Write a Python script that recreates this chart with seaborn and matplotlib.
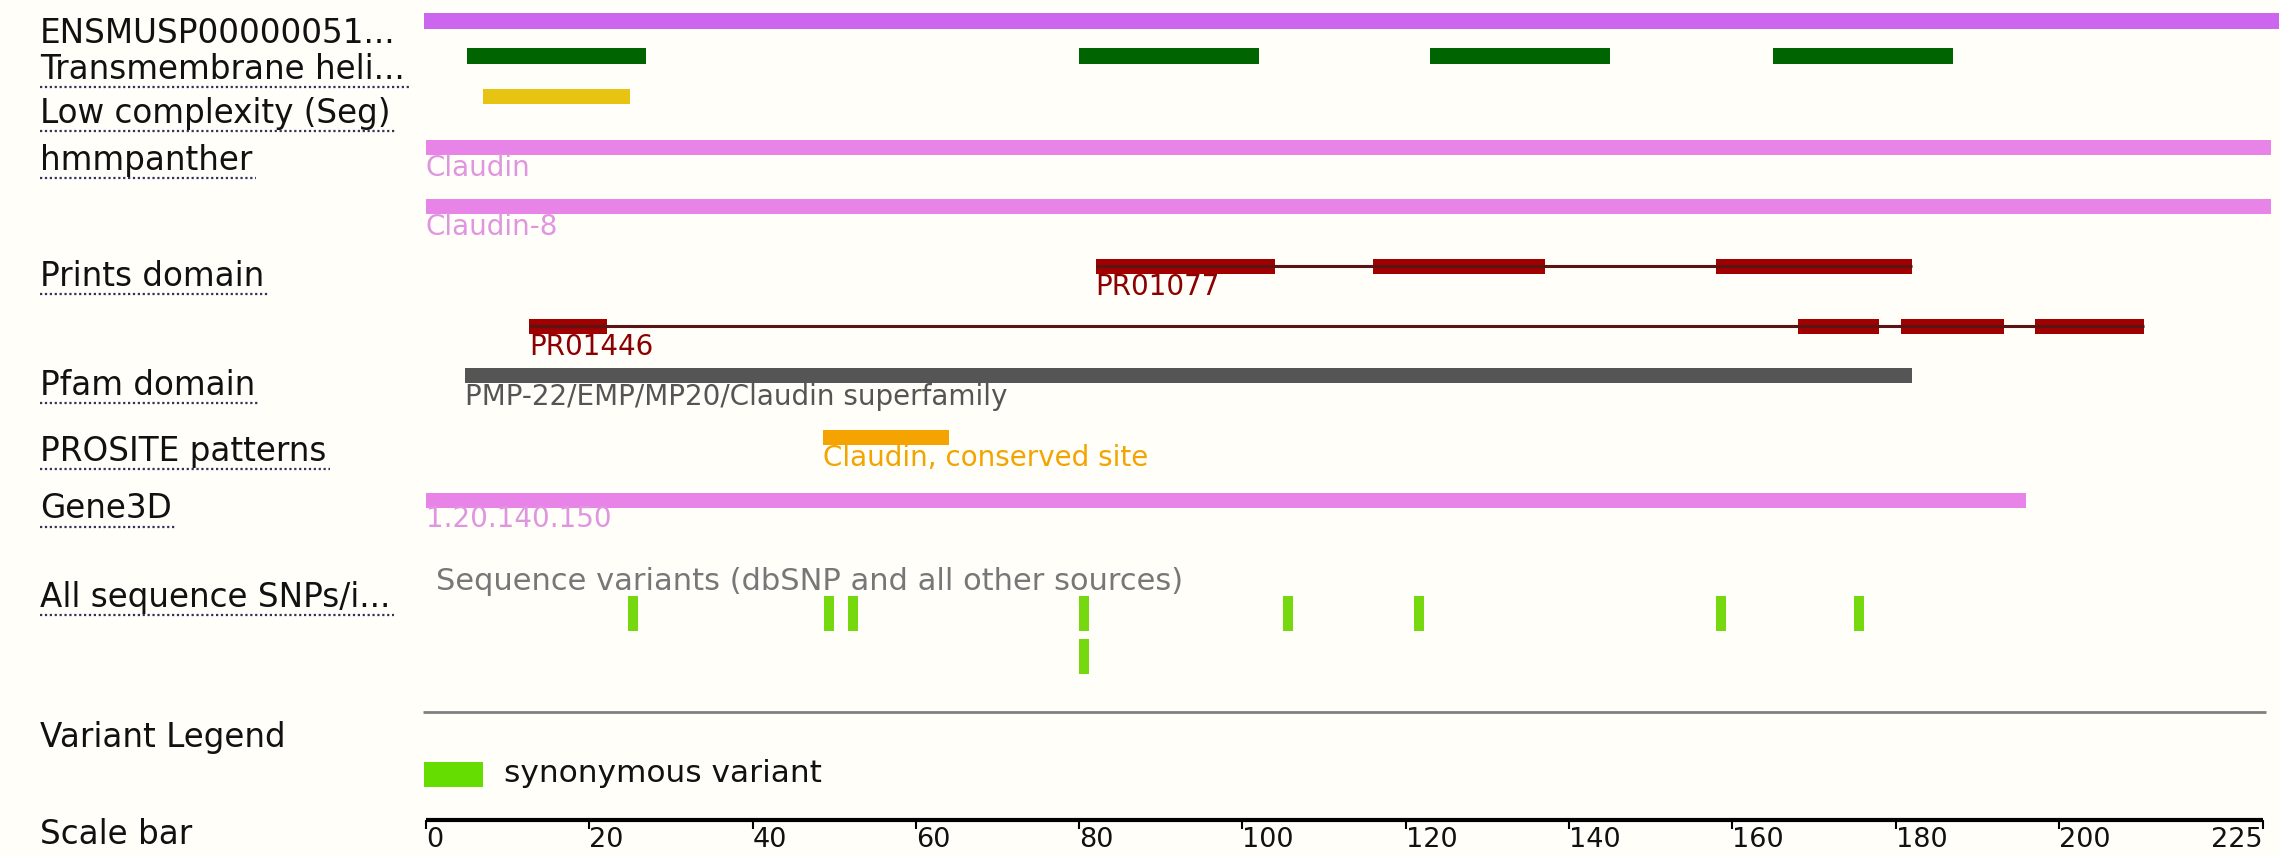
import numpy as np
import pandas as pd
import seaborn as sns
import matplotlib
import matplotlib.pyplot as plt
from matplotlib.patches import Rectangle
from matplotlib.path import Path

matplotlib.use('Agg')

# --- data (protein coordinates, aa) ---
seq_len = 225
tm_helices = [(5, 27), (80, 102), (123, 145), (165, 187)]
low_complexity = [(7, 25)]
panther_claudin = [(0, 226)]
panther_claudin8 = [(0, 226)]
pr01077_blocks = [(82, 104), (116, 137), (158, 182)]
pr01446_blocks = [(12.6, 22.2), (168, 178), (180.6, 193.3), (197, 210.4)]
pfam_claudin = [(4.8, 182)]
prosite_site = [(48.6, 64)]
gene3d = [(0, 196)]
snp_row1 = [25.4, 49.4, 52.3, 80.6, 105.6, 121.6, 158.6, 175.5]
snp_row2 = [80.6]
scale_ticks = [0, 20, 40, 60, 80, 100, 120, 140, 160, 180, 200, 225]

track_labels = ['ENSMUSP00000051...', 'Transmembrane heli...', 'Low complexity (Seg)',
                'hmmpanther', 'Prints domain', 'Pfam domain', 'PROSITE patterns',
                'Gene3D', 'All sequence SNPs/i...', 'Variant Legend', 'Scale bar']
underlined = [False, True, True, True, True, True, True, True, True, False, False]

sns.set_theme(style='white')
plt.rcParams['font.family'] = ['DejaVu Sans']

W, H = 2279, 857
bg = '#FFFEF9'
fig = plt.figure(figsize=(W / 100, H / 100), dpi=100, facecolor=bg)
ax = fig.add_axes([0, 0, 1, 1], facecolor=bg)
px_per_aa = 8.165
x0_px = 426
ax.set_xlim(-x0_px / px_per_aa, (W - x0_px) / px_per_aa)
ax.set_ylim(H, 0)
ax.axis('off')


def blocks(spans, yc, h, color):
    ax.broken_barh([(a, b - a) for a, b in spans], (yc - h / 2, h),
                   facecolors=color, edgecolor='none')


def feat_label(x, y, s, color):
    ax.text(x, y, s, color=color, fontsize=20, ha='left', va='center')


# track rows
blocks([(-0.3, 240)], 21, 16, '#CC66EE')
blocks(tm_helices, 56, 16, '#006400')
blocks(low_complexity, 96, 15, '#E8C412')

violet = '#E884E8'
blocks(panther_claudin, 147, 15, violet)
feat_label(0, 168, 'Claudin', '#E095E0')
blocks(panther_claudin8, 206, 15, violet)
feat_label(0, 227, 'Claudin-8', '#E095E0')

red = '#A00000'
for spans, yc, name in [(pr01077_blocks, 266, 'PR01077'), (pr01446_blocks, 326, 'PR01446')]:
    ax.hlines(yc, spans[0][0], spans[-1][1], color='#5A1414', lw=2.2)
    blocks(spans, yc, 15, red)
    feat_label(spans[0][0], yc + 21, name, '#8B0000')

blocks(pfam_claudin, 375, 15, '#555555')
feat_label(pfam_claudin[0][0], 397, 'PMP-22/EMP/MP20/Claudin superfamily', '#555555')
blocks(prosite_site, 437, 15, '#F5A300')
feat_label(prosite_site[0][0], 458, 'Claudin, conserved site', '#F2A400')
blocks(gene3d, 500, 15, violet)
feat_label(0, 519, '1.20.140.150', '#E095E0')

# variants
ax.text(1.2, 581, 'Sequence variants (dbSNP and all other sources)', color='#777777',
        fontsize=22, ha='left', va='center')
snps = pd.DataFrame({'pos': snp_row1 + snp_row2,
                     'row': [612.5] * len(snp_row1) + [656] * len(snp_row2)})
rect = Path([(-0.157, -0.5), (0.157, -0.5), (0.157, 0.5), (-0.157, 0.5), (-0.157, -0.5)],
            [Path.MOVETO, Path.LINETO, Path.LINETO, Path.LINETO, Path.CLOSEPOLY])
sns.scatterplot(data=snps, x='pos', y='row', marker=rect, s=(35 * 0.72) ** 2,
                color='#76D80E', linewidth=0, legend=False, ax=ax)

ax.hlines(712, -0.4, 225.4, color='#808080', lw=2)

# variant legend
ax.add_patch(Rectangle((-0.25, 762), 7.2, 25, facecolor='#66DD00', edgecolor='none'))
ax.text(9.6, 774, 'synonymous variant', fontsize=22.5, color='#111111', ha='left', va='center')

# scale bar
ax.hlines(820, 0, seq_len, color='black', lw=3)
ax.vlines(scale_ticks, 820, 829, color='black', lw=1.5)
for t in scale_ticks:
    ha = 'right' if t == seq_len else 'left'
    ax.text(t, 840, str(t), fontsize=19.5, color='#111111', ha=ha, va='center')

# row labels
label_y = [33, 69, 113, 160, 276, 385, 451, 509, 597, 737, 834]
lab_tr = ax.get_yaxis_transform()
texts = []
for s, y in zip(track_labels, label_y):
    texts.append(ax.text(40 / W, y, s, fontsize=23.5, color='#111111', ha='left',
                         va='center', transform=lab_tr))

fig.canvas.draw()
renderer = fig.canvas.get_renderer()
inv = ax.transData.inverted()
for t, u in zip(texts, underlined):
    if not u:
        continue
    bb = t.get_window_extent(renderer)
    (xa, ya), (xb, _) = inv.transform([(bb.x0, bb.y0), (bb.x1, bb.y0)])
    ax.plot([xa, xb + 0.5], [ya + 1, ya + 1], color='#33335A', lw=1.6,
            linestyle=(0, (1, 1.2)))

fig.savefig('out.png', dpi=100, facecolor=bg)
